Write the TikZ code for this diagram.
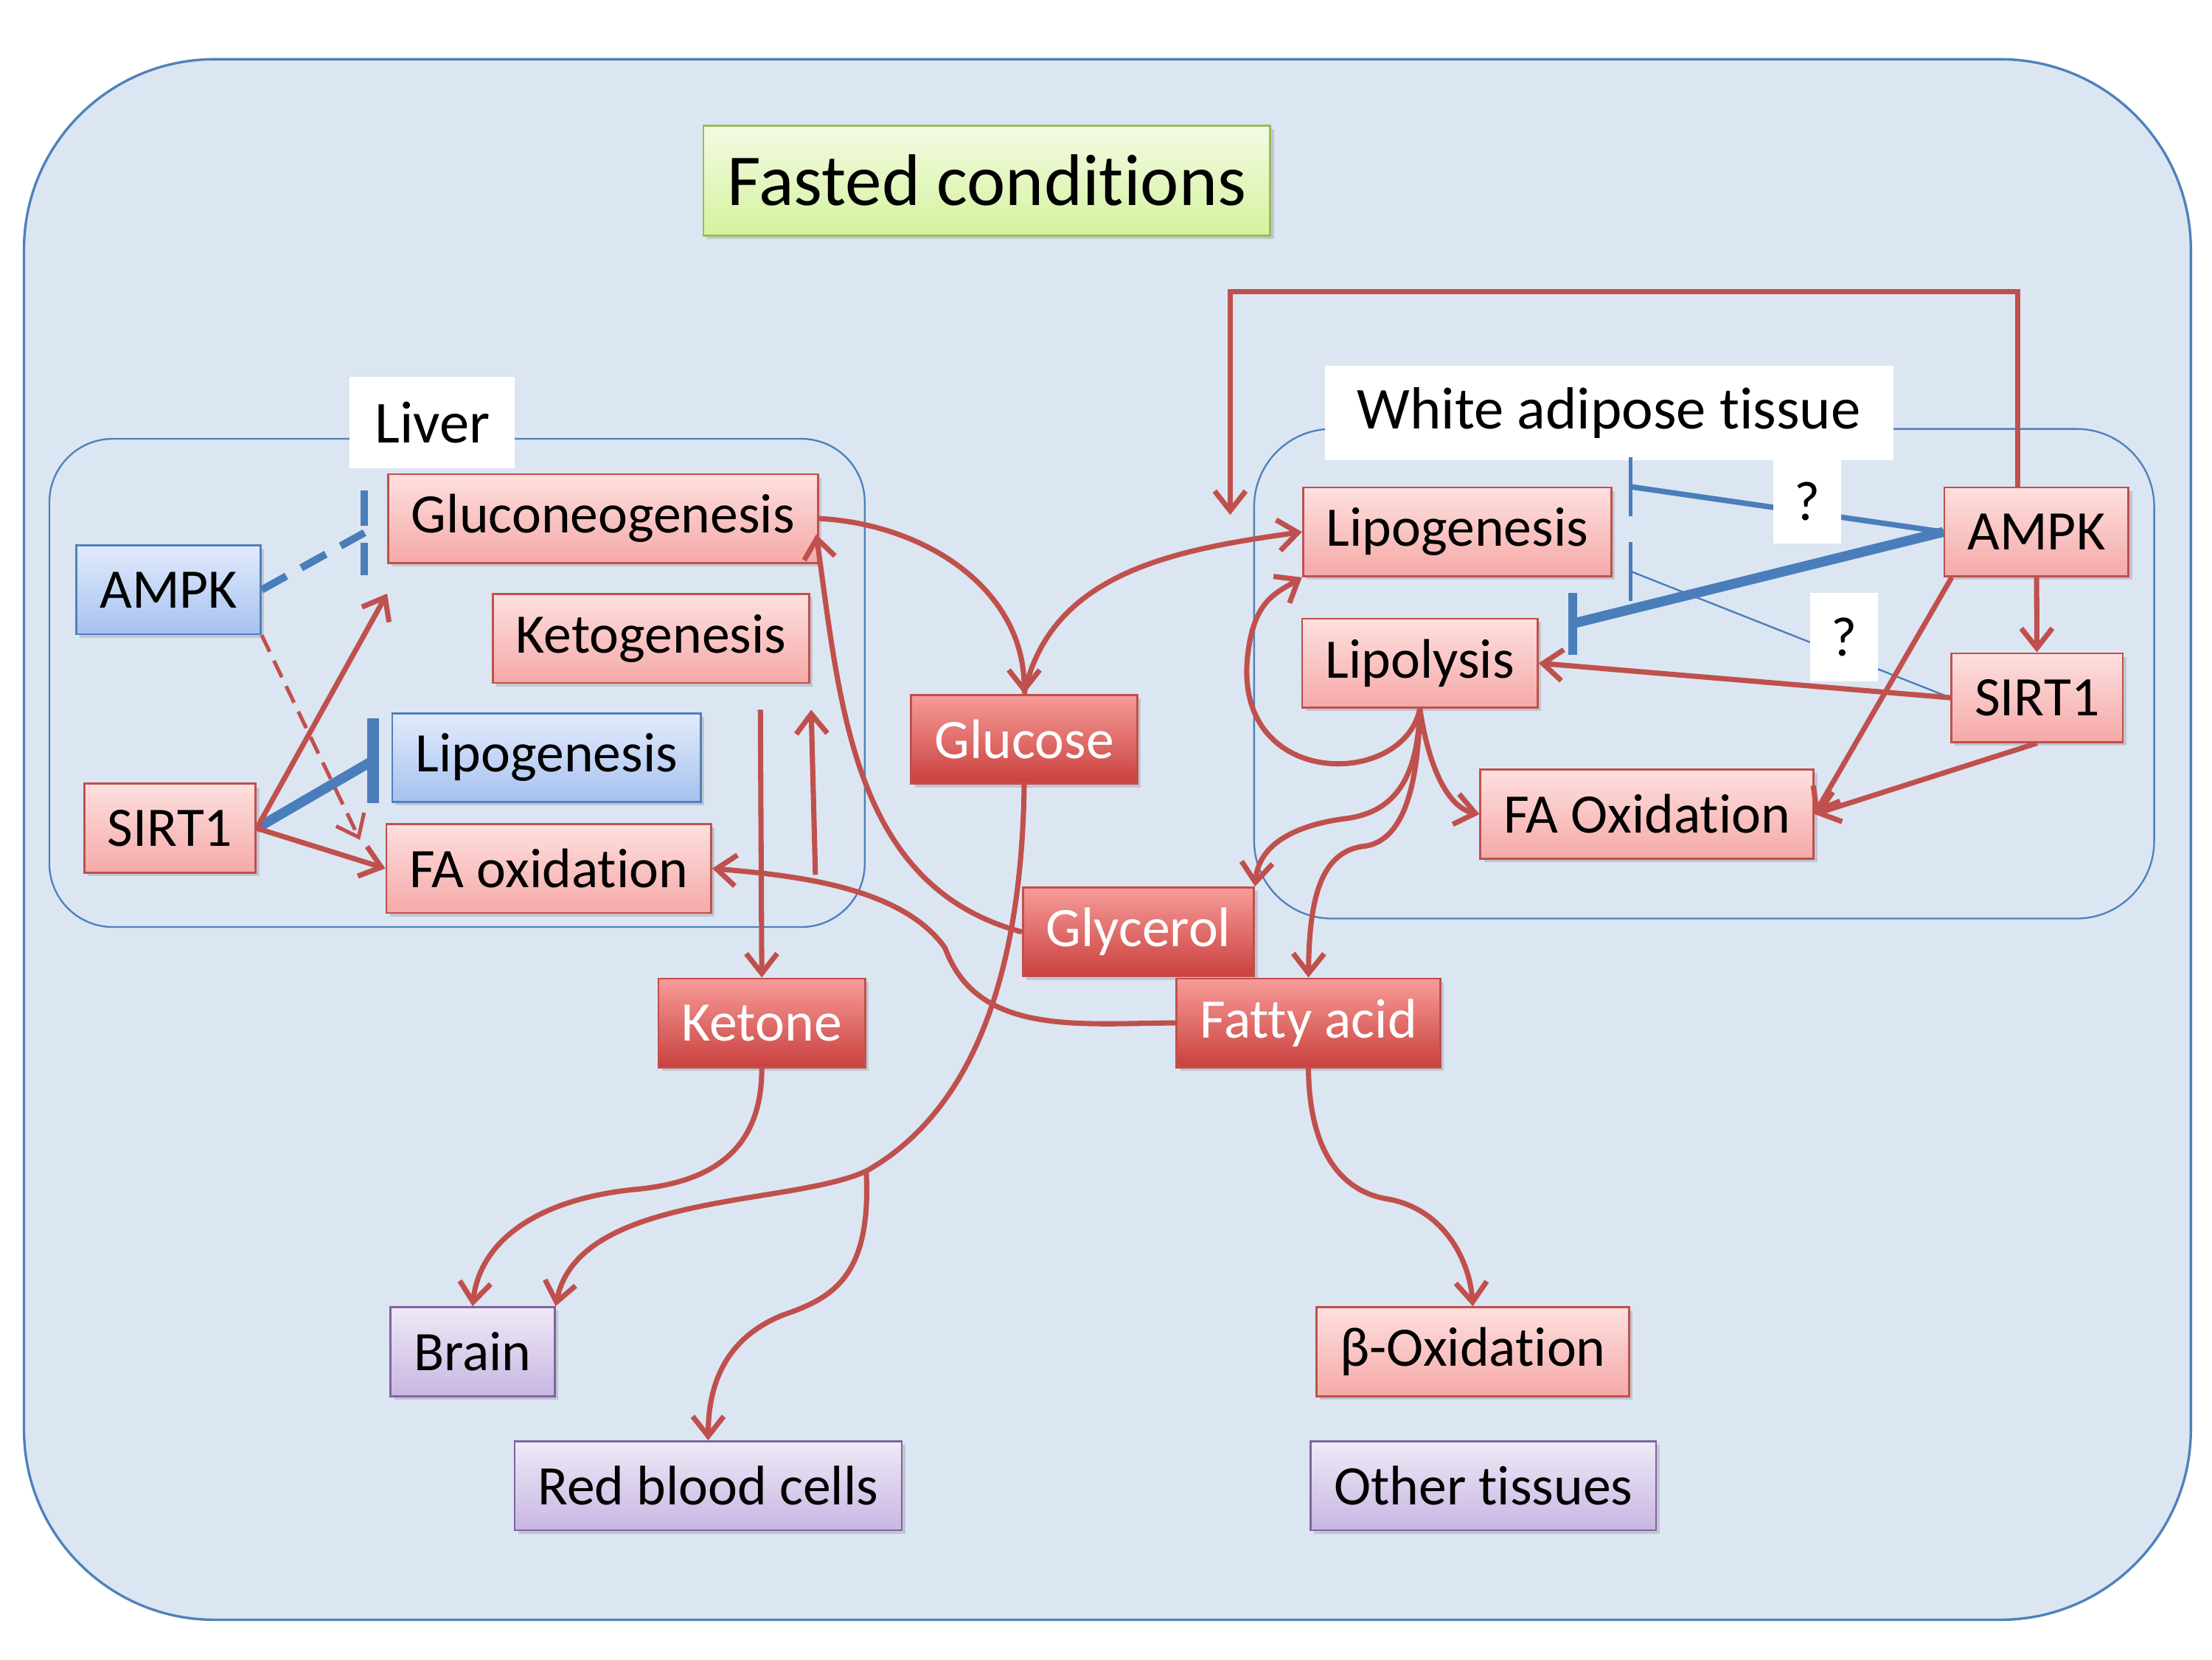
\documentclass[tikz,border=0pt]{standalone}
\usepackage{fontspec}
\setmainfont{Carlito}[Ligatures=NoCommon]
\usetikzlibrary{arrows.meta,shadows}

\definecolor{bgfill}{HTML}{DCE6F2}
\definecolor{bgline}{HTML}{4F81BD}
\definecolor{redline}{HTML}{C0504D}
\definecolor{rtop}{HTML}{FDE0DF}
\definecolor{rbot}{HTML}{F5A9A7}
\definecolor{dtop}{HTML}{F79C99}
\definecolor{dbot}{HTML}{C9403D}
\definecolor{blueline}{HTML}{4F81BD}
\definecolor{btop}{HTML}{E2EBFC}
\definecolor{bbot}{HTML}{A6C1EF}
\definecolor{purpline}{HTML}{8064A2}
\definecolor{ptop}{HTML}{EFE9F7}
\definecolor{pbot}{HTML}{C8B6E2}
\definecolor{greenline}{HTML}{9BBB59}
\definecolor{gtop}{HTML}{F3FBE3}
\definecolor{gbot}{HTML}{D5F29E}
\definecolor{inhblue}{HTML}{4A7EBB}

\begin{document}
\begin{tikzpicture}[x=0.2mm,y=0.2mm,
    box/.style={draw,line width=0.8pt,inner xsep=3.3mm,minimum height=12.6mm,
        font=\fontsize{22.5}{27}\selectfont,
        drop shadow={shadow xshift=0.5mm,shadow yshift=-0.5mm,opacity=0.3}},
    redbox/.style={box,draw=redline,top color=rtop,bottom color=rbot},
    darkbox/.style={box,draw=redline,top color=dtop,bottom color=dbot,text=white},
    bluebox/.style={box,draw=blueline,top color=btop,bottom color=bbot},
    purplebox/.style={box,draw=purpline,top color=ptop,bottom color=pbot},
    lbl/.style={fill=white,inner sep=0pt,font=\fontsize{24}{29}\selectfont},
    qbox/.style={fill=white,inner sep=0pt,minimum width=9.6mm,font=\fontsize{22.5}{27}\selectfont},
    redarr/.style={draw=redline,line width=2.1pt,-{Straight Barb[length=2.8mm,width=4.4mm]}},
    inhib/.style={draw=inhblue}]

\useasboundingbox (0,0) rectangle (1568,-1176);

% frames
\draw[bgline,line width=1pt,fill=bgfill,rounded corners=27mm] (17,-42) rectangle (1553,-1148);
\draw[bgline,line width=0.7pt,rounded corners=9mm] (35,-311) rectangle (613,-657);
\draw[bgline,line width=0.7pt,rounded corners=11mm] (889,-304) rectangle (1527,-651);

\node[box,draw=greenline,top color=gtop,bottom color=gbot,font=\fontsize{29.5}{35}\selectfont,
    inner xsep=3.4mm,minimum height=15.6mm] (title) at (699.5,-128) {Fasted conditions};
\node[lbl,minimum width=23.4mm,minimum height=13mm] (liver) at (306.5,-299.5) {Liver};
\node[lbl,minimum width=80.6mm,minimum height=13.4mm] (wat) at (1140.5,-292.5) {White adipose tissue};

% liver
\node[bluebox] (lampk) at (119.5,-418) {AMPK};
\node[redbox] (lsirt) at (120.5,-587) {SIRT1};
\node[redbox] (gng) at (427.5,-367.5) {Gluconeogenesis};
\node[redbox] (keto) at (461.5,-452.5) {Ketogenesis};
\node[bluebox] (llipo) at (387.5,-537) {Lipogenesis};
\node[redbox] (lfaox) at (389,-615.5) {FA oxidation};

% blood
\node[darkbox] (glucose) at (726,-524) {Glucose};
\node[darkbox] (glycerol) at (807,-660.5) {Glycerol};
\node[darkbox] (fatty) at (927.5,-725) {Fatty acid};
\node[darkbox] (ketone) at (540,-725) {Ketone};
\node[purplebox] (brain) at (335,-958) {Brain};
\node[purplebox] (rbc) at (502,-1053) {Red blood cells};
\node[redbox] (betaox) at (1044,-958) {β-Oxidation};
\node[purplebox] (other) at (1051.5,-1053) {Other tissues};

% white adipose tissue
\node[redbox] (wlipo) at (1033,-377) {Lipogenesis};
\node[redbox] (wlysis) at (1006.5,-470) {Lipolysis};
\node[redbox] (wampk) at (1443.5,-377) {AMPK};
\node[redbox] (wsirt) at (1444,-494.5) {SIRT1};
\node[redbox] (wfaox) at (1167.5,-577) {FA Oxidation};

% liver links
\coordinate (gbar) at ([xshift=-3.2mm,yshift=-2mm]gng.west);
\coordinate (lbar) at ([xshift=-2.6mm,yshift=-0.4mm]llipo.west);
\draw[inhib,line width=3pt,dash pattern=on 4mm off 2.4mm] (lampk.east) -- (gbar);
\draw[inhib,line width=3pt,dash pattern=on 5mm off 2.4mm] ([yshift=6mm]gbar) -- ([yshift=-6mm]gbar);
\draw[inhib,line width=4pt] (lsirt.east) -- (lbar);
\draw[inhib,line width=4.5pt] ([yshift=6mm]lbar) -- ([yshift=-6mm]lbar);
\draw[redarr,line width=1.5pt,dash pattern=on 2.6mm off 1.4mm] (lampk.south east) -- ([xshift=-3.6mm,yshift=-2.4mm]lfaox.north west);
\draw[redarr] (lsirt.east) -- ([yshift=-4.2mm]gng.south west);
\draw[redarr] (lsirt.east) -- (lfaox.west);

\coordinate (kdn) at (539,-503);
\coordinate (kup1) at (578,-620);
\coordinate (kup2) at (575,-503);
\draw[redarr] (kdn) -- (ketone.north);
\draw[redarr] (kup1) -- (kup2);

% between organs
\draw[redarr] (gng.east) to[out=-3,in=90] (glucose.north);
\draw[redarr] (glucose.north) to[out=78,in=188] (wlipo.west);
\draw[redarr] (glycerol.west) to[out=165,in=-82] ([xshift=-0.4mm,yshift=4.2mm]gng.south east);
\draw[redarr] (fatty.west) to[out=180,in=-70] (670,-672) to[out=125,in=-5,looseness=0.8] (lfaox.east);

\coordinate (split) at (614,-830);
\draw[redarr] (glucose.south) .. controls (724,-700) and (685,-790) .. (split)
    .. controls (560,-855) and (410,-845) .. (brain.north east);
\draw[redarr] (split) .. controls (618,-905) and (590,-920) .. (555,-932)
    .. controls (515,-948) and (502,-980) .. (rbc.north);
\draw[redarr] (ketone.south) .. controls (540,-815) and (505,-838) .. (450,-843)
    .. controls (380,-850) and (340,-880) .. (brain.north);
\draw[redarr] (fatty.south) .. controls (928,-815) and (950,-845) .. (985,-850)
    .. controls (1025,-858) and (1042,-895) .. (betaox.north);

% adipose links
\draw[redarr] (wlysis.south) .. controls (1005,-550) and (990,-575) .. (955,-580)
    .. controls (915,-585) and (892,-600) .. (glycerol.north east);
\draw[redarr] (wlysis.south) .. controls (1005,-570) and (990,-598) .. (965,-600)
    .. controls (935,-605) and (928,-640) .. (fatty.north);
\draw[redarr] (wlysis.south) .. controls (1012,-540) and (1025,-572) .. (wfaox.west);
\draw[redarr] (wlysis.south) .. controls (995,-560) and (870,-560) .. (885,-460)
    .. controls (890,-425) and (905,-420) .. (wlipo.south west);

\coordinate (fbend) at (872,-365);
\draw[redarr] ([xshift=-2.6mm]wampk.north) -- ++(0,138) -| (fbend);

\coordinate (wbar1) at ([xshift=2.6mm,yshift=6.4mm]wlipo.east);
\coordinate (wbar2) at ([xshift=2.6mm,yshift=-5.6mm]wlipo.east);
\coordinate (wbar3) at ([xshift=4.8mm,yshift=5.6mm]wlysis.east);
\draw[inhib,line width=2.2pt] (wampk.west) -- (wbar1);
\draw[inhib,line width=1.5pt] ([yshift=4.2mm]wbar1) -- ([yshift=-4.2mm]wbar1);
\draw[inhib,line width=0.7pt] (wsirt.west) -- (wbar2);
\draw[inhib,line width=1.5pt] ([yshift=4.2mm]wbar2) -- ([yshift=-4.2mm]wbar2);
\draw[inhib,line width=4pt] (wampk.west) -- (wbar3);
\draw[inhib,line width=3.5pt] ([yshift=4.4mm]wbar3) -- ([yshift=-4.4mm]wbar3);

\draw[redarr] (wsirt.west) -- (wlysis.east);
\draw[redarr] (wampk) -- (wsirt);
\draw[redarr] ([xshift=1.2mm]wampk.south west) -- (wfaox.east);
\draw[redarr] (wsirt.south) -- (wfaox.east);

\node[qbox,minimum height=11.8mm] (q1) at (1281,-355.5) {?};
\node[qbox,minimum height=12.6mm] (q2) at (1307,-451.5) {?};

\end{tikzpicture}
\end{document}
